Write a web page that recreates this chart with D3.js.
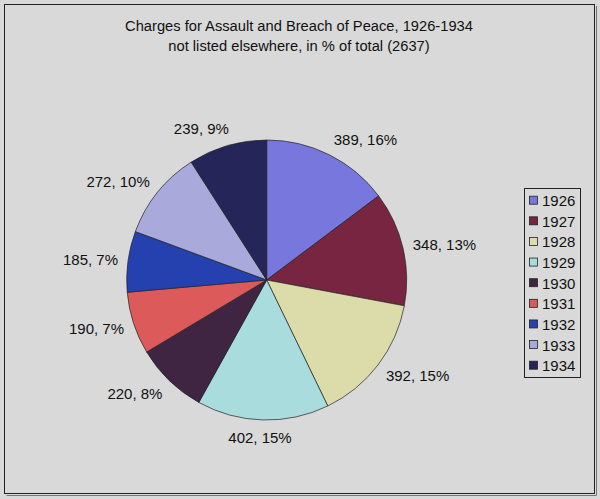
<!DOCTYPE html>
<html><head><meta charset="utf-8">
<script src="https://cdn.jsdelivr.net/npm/d3@7/dist/d3.min.js"></script>
<style>body{margin:0;background:#d9d9d9}svg{display:block}</style>
</head><body>
<script>
const years = ["1926","1927","1928","1929","1930","1931","1932","1933","1934"];
const counts = [389,348,392,402,220,190,185,272,239];
const percentLabels = ["16%","13%","15%","15%","8%","7%","7%","10%","9%"];
const colors = ["#7777dd","#772541","#dcdcaa","#a9dcdc","#3f2541","#dd5a5a","#2541b0","#a9a9dc","#25255a"];
const titleLines = ["Charges for Assault and Breach of Peace, 1926-1934","not listed elsewhere, in % of total (2637)"];

const W=600,H=499;
const svg=d3.select("body").append("svg").attr("width",W).attr("height",H);
svg.append("rect").attr("width",W).attr("height",H).attr("fill","#d9d9d9");
// frame
svg.append("path").attr("d","M6.5,495.5H596.5V6").attr("fill","none").attr("stroke","#777").attr("stroke-width",1);
svg.append("rect").attr("x",4.5).attr("y",4.5).attr("width",590).attr("height",489).attr("fill","none").attr("stroke","#222").attr("stroke-width",1);

const font="'Liberation Sans', Arial, sans-serif";
svg.append("g").selectAll("text").data(titleLines).join("text")
  .attr("x",299).attr("y",(d,i)=>31+i*19.5).attr("text-anchor","middle")
  .attr("font-family",font).attr("font-size",14.7).attr("fill","#111").text(d=>d);

const cx=266.7, cy=280, r=140;
const pie=d3.pie().sort(null).value(d=>d)(counts);
const arc=d3.arc().innerRadius(0).outerRadius(r);
const g=svg.append("g").attr("transform",`translate(${cx},${cy})`);
g.selectAll("path").data(pie).join("path").attr("d",arc)
  .attr("fill",(d,i)=>colors[i]).attr("stroke","#222").attr("stroke-width",0.7);

const fs=15;
const labels=g.selectAll("text.lbl").data(pie).join("text").attr("class","lbl")
  .attr("font-family",font).attr("font-size",fs).attr("fill","#111")
  .attr("text-anchor","middle").attr("dominant-baseline","central")
  .text((d,i)=>`${counts[i]}, ${percentLabels[i]}`);
labels.each(function(d){
  const a=(d.startAngle+d.endAngle)/2;
  const s=Math.sin(a), c=Math.cos(a);
  const R=r+10;
  const px=R*s, py=-R*c;
  const w=this.getComputedTextLength();
  const f=Math.max(-1,Math.min(1,s*3));
  d3.select(this).attr("x",px+f*w/2).attr("y",py-c*7.5);
});

// legend
const lg=svg.append("g");
lg.append("rect").attr("x",524.5).attr("y",188.5).attr("width",56).attr("height",189)
  .attr("fill","#d9d9d9").attr("stroke","#222").attr("stroke-width",1);
const ly=d3.scalePoint().domain(years).range([200.7,365.7]);
const items=lg.selectAll("g.it").data(years).join("g").attr("class","it");
items.append("rect").attr("x",529.5).attr("y",d=>ly(d)-4.5).attr("width",8).attr("height",8)
  .attr("fill",(d,i)=>colors[i]).attr("stroke","#222").attr("stroke-width",0.8);
items.append("text").attr("x",542).attr("y",d=>ly(d)).attr("dominant-baseline","central")
  .attr("font-family",font).attr("font-size",15).attr("fill","#111").text(d=>d);
</script>
</body></html>
